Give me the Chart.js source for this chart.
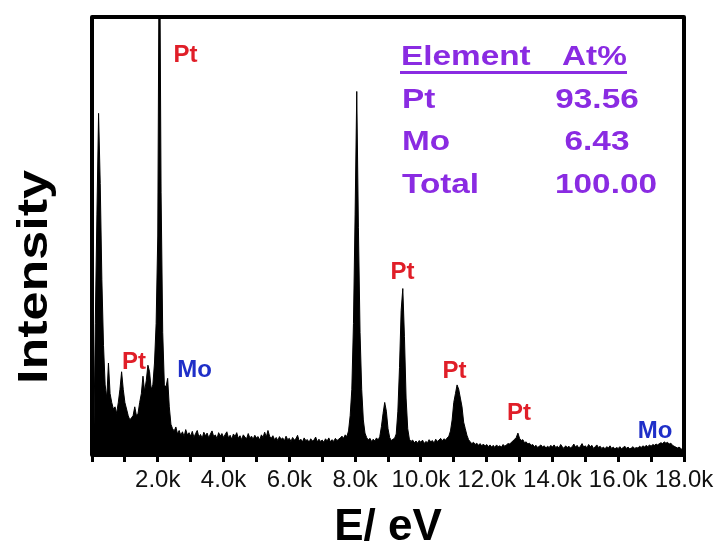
<!DOCTYPE html>
<html>
<head>
<meta charset="utf-8">
<script src="https://cdn.jsdelivr.net/npm/chart.js@4.4.1/dist/chart.umd.min.js"></script>
<style>
html,body{margin:0;padding:0;background:#fff;}
canvas{display:block;}
</style>
</head>
<body>
<canvas id="c" width="720" height="556"></canvas>
<script>
// Energy channels (eV)
const energy = [
0,50,100,150,200,250,300,350,400,450,500,550,600,650,700,750,800,850,900,950,
1000,1050,1100,1150,1200,1250,1300,1350,1400,1450,1500,1550,1600,1650,1700,1750,1800,1850,1900,1950,
2000,2050,2100,2150,2200,2250,2300,2350,2400,2450,2500,2550,2600,2650,2700,2750,2800,2850,2900,2950,
3000,3050,3100,3150,3200,3250,3300,3350,3400,3450,3500,3550,3600,3650,3700,3750,3800,3850,3900,3950,
4000,4050,4100,4150,4200,4250,4300,4350,4400,4450,4500,4550,4600,4650,4700,4750,4800,4850,4900,4950,
5000,5050,5100,5150,5200,5250,5300,5350,5400,5450,5500,5550,5600,5650,5700,5750,5800,5850,5900,5950,
6000,6050,6100,6150,6200,6250,6300,6350,6400,6450,6500,6550,6600,6650,6700,6750,6800,6850,6900,6950,
7000,7050,7100,7150,7200,7250,7300,7350,7400,7450,7500,7550,7600,7650,7700,7750,7800,7850,7900,7950,
8000,8050,8100,8150,8200,8250,8300,8350,8400,8450,8500,8550,8600,8650,8700,8750,8800,8850,8900,8950,
9000,9050,9100,9150,9200,9250,9300,9350,9400,9450,9500,9550,9600,9650,9700,9750,9800,9850,9900,9950,
10000,10050,10100,10150,10200,10250,10300,10350,10400,10450,10500,10550,10600,10650,10700,10750,10800,10850,10900,10950,
11000,11050,11100,11150,11200,11250,11300,11350,11400,11450,11500,11550,11600,11650,11700,11750,11800,11850,11900,11950,
12000,12050,12100,12150,12200,12250,12300,12350,12400,12450,12500,12550,12600,12650,12700,12750,12800,12850,12900,12950,
13000,13050,13100,13150,13200,13250,13300,13350,13400,13450,13500,13550,13600,13650,13700,13750,13800,13850,13900,13950,
14000,14050,14100,14150,14200,14250,14300,14350,14400,14450,14500,14550,14600,14650,14700,14750,14800,14850,14900,14950,
15000,15050,15100,15150,15200,15250,15300,15350,15400,15450,15500,15550,15600,15650,15700,15750,15800,15850,15900,15950,
16000,16050,16100,16150,16200,16250,16300,16350,16400,16450,16500,16550,16600,16650,16700,16750,16800,16850,16900,16950,
17000,17050,17100,17150,17200,17250,17300,17350,17400,17450,17500,17550,17600,17650,17700,17750,17800,17850,17900,17950,
18000
];
// Intensity (arbitrary units)
const intensity = [
0,0,30,55,78,62,40,25,16,13,21,14,12,10.5,11,9.5,12,15,19,15,
12,10.5,9,8,8.5,9,11,9,9.5,12,14,18,14.5,17,20.5,19,15,16,21,30,
50,130,60,28,16,15.5,17.5,11,7,6,5.5,6.4,4.8,5.6,4.5,5.3,4.2,5.8,4.6,5.1,
4.3,5.4,4.0,4.9,5.6,4.1,4.7,3.8,5.2,4.4,5.0,3.9,4.8,5.5,4.2,4.6,3.7,5.1,4.3,4.9,
4.0,4.7,5.3,3.9,4.5,3.6,4.8,4.2,5.1,3.8,4.4,3.5,4.6,4.1,3.7,4.9,3.9,4.3,3.6,4.5,
3.9,4.2,3.4,4.6,4.0,5.2,4.1,5.6,4.3,3.8,4.4,3.5,4.0,3.3,4.2,3.6,3.9,3.2,4.3,3.5,
3.8,3.1,4.0,3.4,3.7,4.5,3.2,3.6,3.0,3.9,3.3,3.5,2.9,3.7,3.2,3.4,4.1,3.0,3.6,3.1,
3.4,2.9,3.7,3.2,3.9,3.0,3.5,3.1,3.8,3.3,3.6,3.9,4.3,3.8,4.6,4.2,5.5,9,15,30,
55,83,52,28,15,8,5,4,3.4,3.8,3.1,3.6,3.2,3.9,3.4,4.2,6.5,9.5,12,10,
6,4,3.3,3.6,3.8,4.8,10,20,33,38,27,13,6,3.6,3.1,3.4,2.8,3.2,2.7,3.3,
2.9,3.4,2.6,3.1,2.8,3.5,3.0,3.3,2.7,3.6,3.1,3.4,3.8,3.2,3.7,3.4,3.9,4.3,5.5,8,
12,14,16,15,13,11,7.5,6,4.5,3.5,3.0,2.6,2.9,2.4,2.7,2.2,2.6,2.1,2.5,2.0,
2.4,1.9,2.3,1.8,2.2,1.7,2.3,1.9,2.1,1.8,2.4,2.0,2.3,2.6,2.5,2.9,3.2,3.6,4.0,5.0,
3.8,3.3,3.5,2.8,3.0,2.5,2.7,2.2,2.4,1.9,2.2,1.7,2.0,2.3,1.8,2.1,1.6,2.0,1.7,2.2,
1.8,2.3,1.7,2.0,1.6,2.4,1.9,1.5,2.1,1.7,2.0,1.6,1.9,2.5,1.8,2.2,1.6,2.0,2.6,1.8,
2.1,1.6,2.4,1.9,2.2,1.5,1.9,2.3,1.7,2.0,1.5,1.8,1.4,1.9,1.6,2.1,1.5,1.8,1.4,1.7,
1.5,1.9,1.4,1.7,2.0,1.5,1.8,1.4,1.6,1.9,1.5,1.7,1.6,2.0,1.7,2.1,1.8,2.2,1.9,2.3,
2.0,2.4,2.2,2.5,2.3,2.6,2.8,2.6,3.0,2.7,2.9,2.5,2.7,2.2,2.0,1.8,1.6,1.8,1.5,1.2,
0.5
];
// X tick values (eV) shown with labels
const labeledTicks = [2000,4000,6000,8000,10000,12000,14000,16000,18000];
// Peak annotations (element, energy eV, intensity)
const peakNames = ['Pt','Pt','Mo','Pt','Pt','Pt','Mo'];
const peakEnergy = [2843,1277,3117,9440,11020,12980,17120];
const peakIntensity = [91.3,21.2,19.4,41.8,19.2,9.4,5.3];
// Composition table
const tableHeader = ['Element','At%'];
const tableElements = ['Pt','Mo','Total'];
const tableAtPct = ['93.56','6.43','100.00'];

const FONT = "'Liberation Sans', Arial, Helvetica, sans-serif";
const RED = '#e01e28', BLUE = '#1f2fc8', PURPLE = '#8a2be2';

const points = energy.map((e,i)=>({x:e,y:intensity[i]}));

function wideText(ctx, text, x, y, align, sx){
  ctx.save();
  ctx.translate(x, y);
  ctx.scale(sx, 1);
  ctx.textAlign = align;
  ctx.fillText(text, 0, 0);
  ctx.restore();
}

const decor = {
  id:'decor',
  beforeDraw(chart){
    const ctx = chart.ctx;
    ctx.save(); ctx.fillStyle='#fff'; ctx.fillRect(0,0,chart.width,chart.height); ctx.restore();
  },
  afterDatasetsDraw(chart){
    const ctx = chart.ctx, a = chart.chartArea;
    const xs = chart.scales.x, ys = chart.scales.y;
    ctx.save();
    // frame
    ctx.strokeStyle='#000'; ctx.lineWidth=4; ctx.lineJoin='round';
    ctx.strokeRect(a.left, a.top, a.right-a.left, a.bottom-a.top);
    // peak labels
    ctx.font = 'bold 24px '+FONT;
    ctx.textAlign='center'; ctx.textBaseline='middle';
    peakNames.forEach((n,i)=>{
      ctx.fillStyle = n==='Mo' ? BLUE : RED;
      ctx.fillText(n, xs.getPixelForValue(peakEnergy[i]), ys.getPixelForValue(peakIntensity[i]));
    });
    // table
    ctx.fillStyle = PURPLE;
    ctx.font = 'bold 28px '+FONT;
    const SX = 1.19;
    wideText(ctx, tableHeader[0], 401, 57, 'left', SX);
    wideText(ctx, tableHeader[1], 562, 57, 'left', SX);
    ctx.fillRect(400, 71, 227, 3);
    const rowsY = [100, 142, 185];
    const numCenters = [597, 597, 606];
    tableElements.forEach((n,i)=>{
      wideText(ctx, n, 402, rowsY[i], 'left', SX);
      wideText(ctx, tableAtPct[i], numCenters[i], rowsY[i], 'center', SX);
    });
    // axis titles
    ctx.fillStyle='#000';
    ctx.font = 'bold 44px '+FONT;
    ctx.textAlign='center';
    ctx.fillText('E/ eV', (a.left+a.right)/2, 528);
    ctx.save();
    ctx.translate(35, 277);
    ctx.rotate(-Math.PI/2);
    ctx.font = 'bold 42px '+FONT;
    wideText(ctx, 'Intensity', 0, 0, 'center', 1.24);
    ctx.restore();
    ctx.restore();
  }
};

new Chart(document.getElementById('c'), {
  type:'line',
  data:{datasets:[{
    data: points,
    borderColor:'#000', backgroundColor:'#000', borderWidth:1,
    pointRadius:0, fill:'origin', tension:0
  }]},
  options:{
    responsive:false, animation:false,
    layout:{padding:{left:92, right:36, top:17, bottom:0}},
    plugins:{legend:{display:false}, tooltip:{enabled:false}},
    scales:{
      x:{
        type:'linear', min:0, max:18000,
        afterFit(s){ s.height = 101; },
        border:{display:false},
        grid:{drawOnChartArea:false, drawTicks:true, tickLength:7, tickWidth:3, tickColor:'#000'},
        ticks:{
          stepSize:1000, autoSkip:false, maxRotation:0, padding:4,
          color:'#111', font:{family:FONT, size:24},
          callback:(v)=> labeledTicks.includes(v) ? (v/1000).toFixed(1)+'k' : ''
        }
      },
      y:{ display:false, min:0, max:100 }
    }
  },
  plugins:[decor]
});
</script>
</body>
</html>
